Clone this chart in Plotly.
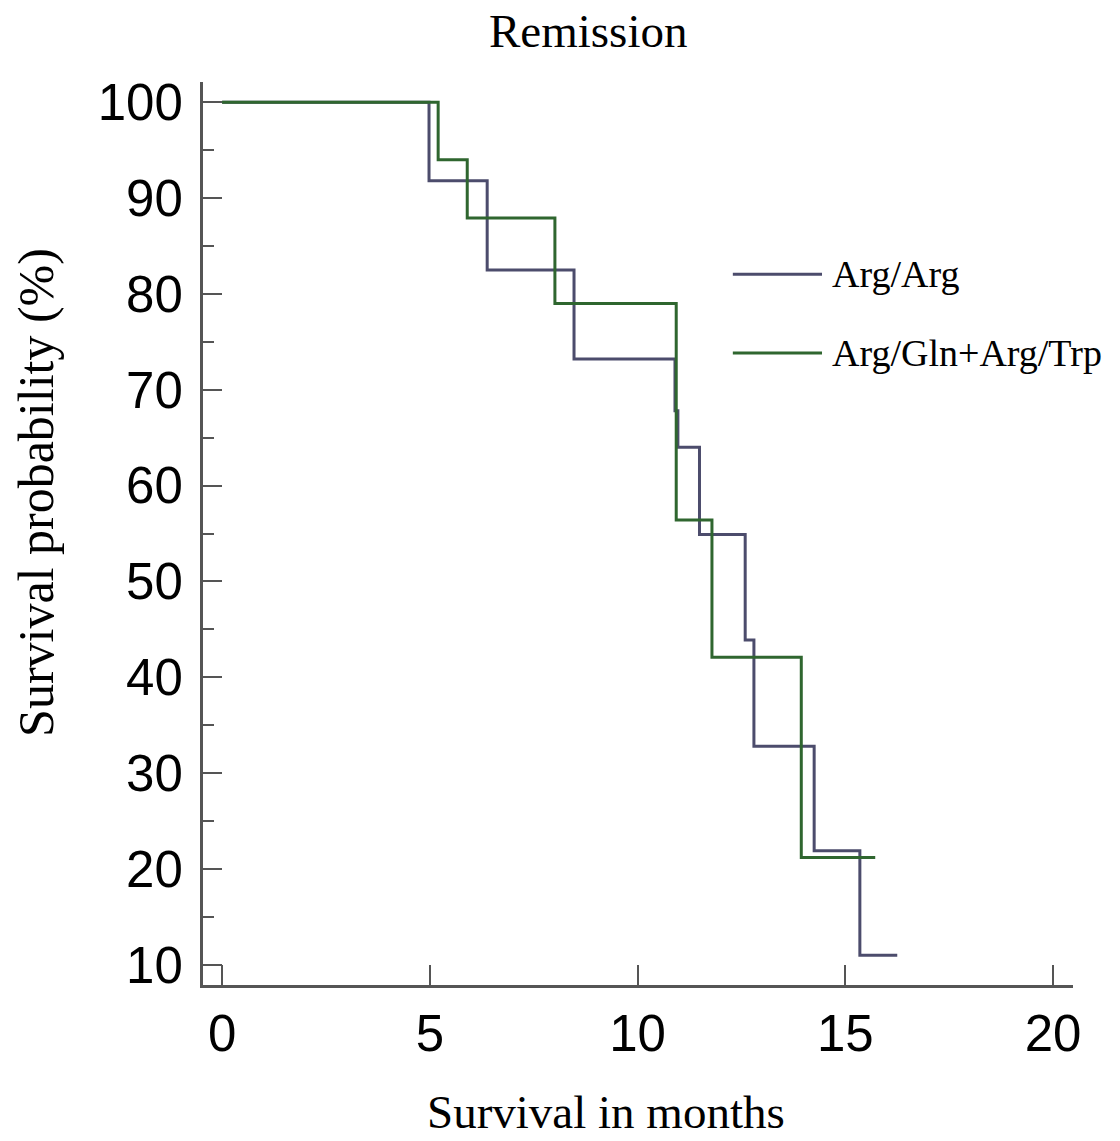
import plotly.graph_objects as go

# Kaplan-Meier step data
arg_arg_months = [0, 4.98, 6.38, 8.47, 10.90, 10.97, 11.49, 12.59, 12.80, 14.25, 15.35, 16.25]
arg_arg_surv = [100, 91.8, 82.5, 73.2, 67.8, 64.0, 54.9, 43.9, 32.8, 21.9, 11.0, 11.0]

arg_gln_months = [0, 5.2, 5.9, 8.01, 10.93, 11.79, 13.94, 15.72]
arg_gln_surv = [100, 94.0, 87.9, 79.0, 56.4, 42.1, 21.2, 21.2]

series_names = ["Arg/Arg", "Arg/Gln+Arg/Trp"]
series_colors = ["#4c4c6c", "#2f662f"]

x_ticks = [0, 5, 10, 15, 20]
y_ticks = [10, 20, 30, 40, 50, 60, 70, 80, 90, 100]

SERIF = "Liberation Serif, Times New Roman, serif"
SANS = "Liberation Sans, Arial, sans-serif"

fig = go.Figure()
fig.add_trace(go.Scatter(x=arg_arg_months, y=arg_arg_surv, mode="lines",
                         line=dict(shape="hv", color=series_colors[0], width=3),
                         name=series_names[0], showlegend=False))
fig.add_trace(go.Scatter(x=arg_gln_months, y=arg_gln_surv, mode="lines",
                         line=dict(shape="hv", color=series_colors[1], width=3),
                         name=series_names[1], showlegend=False))

# Manual legend (long line samples as in the reference)
legend_y = [0.787, 0.700]
for name, color, ly in zip(series_names, series_colors, legend_y):
    fig.add_shape(type="line", xref="paper", yref="paper",
                  x0=0.609, x1=0.7115, y0=ly, y1=ly,
                  line=dict(color=color, width=3))
    fig.add_annotation(xref="paper", yref="paper", x=0.7207, y=ly,
                       xanchor="left", yanchor="middle", showarrow=False,
                       text=name, font=dict(family=SERIF, size=38, color="black"))

# Title and axis titles
fig.add_annotation(xref="paper", yref="paper", x=0.4425, y=1.056,
                   xanchor="center", yanchor="middle", showarrow=False,
                   text="Remission", font=dict(family=SERIF, size=47, color="black"))
fig.add_annotation(xref="paper", yref="paper", x=0.4635, y=-0.141,
                   xanchor="center", yanchor="middle", showarrow=False,
                   text="Survival in months", font=dict(family=SERIF, size=47, color="black"))
fig.add_annotation(xref="paper", yref="paper", x=-0.192, y=0.546,
                   xanchor="center", yanchor="middle", showarrow=False, textangle=-90,
                   text="Survival probability (%)", font=dict(family=SERIF, size=50, color="black"))

fig.update_xaxes(range=[-0.46, 20.48], tickmode="array", tickvals=x_ticks,
                 ticktext=[str(v) for v in x_ticks],
                 ticks="inside", ticklen=20, tickwidth=1.5, tickcolor="#555",
                 showline=True, linecolor="#555", linewidth=3,
                 showgrid=False, zeroline=False, ticklabelstandoff=2,
                 tickfont=dict(family=SANS, size=51, color="black"))
fig.update_yaxes(range=[7.9, 102.1], tickmode="array", tickvals=y_ticks,
                 ticktext=[str(v) for v in y_ticks],
                 ticks="inside", ticklen=19, tickwidth=1.5, tickcolor="#555",
                 minor=dict(ticks="inside", dtick=5, tick0=5, ticklen=11,
                            tickwidth=1.5, tickcolor="#555", showgrid=False),
                 showline=True, linecolor="#555", linewidth=3,
                 showgrid=False, zeroline=False, ticklabelstandoff=7,
                 tickfont=dict(family=SANS, size=51, color="black"))

fig.update_layout(width=1120, height=1141,
                  margin=dict(l=203, r=47, t=82, b=156),
                  plot_bgcolor="white", paper_bgcolor="white",
                  showlegend=False)

fig.write_html("out.html", config={"displayModeBar": False},
               post_script="document.body.style.margin='0';document.body.style.padding='0';")
